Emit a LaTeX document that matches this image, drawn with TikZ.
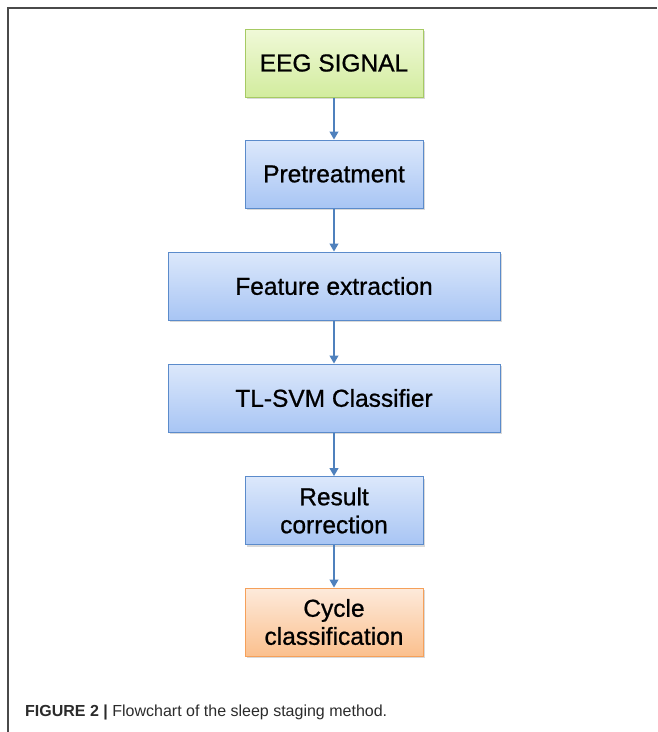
\documentclass[tikz,border=0pt]{standalone}
\usepackage{fontspec}
\setmainfont{Liberation Sans}
\newfontfamily\boxfont{Liberation Sans}[BoldFont={Liberation Sans}, BoldFeatures={FakeBold=0.8}]
\usetikzlibrary{shadows,arrows.meta}
\definecolor{bluetop}{HTML}{DCE8FB}
\definecolor{bluebot}{HTML}{A8C5F4}
\definecolor{blueedge}{HTML}{5B8BCB}
\definecolor{greentop}{HTML}{F0F9D8}
\definecolor{greenbot}{HTML}{D2EC9E}
\definecolor{greenedge}{HTML}{A6CA63}
\definecolor{orangetop}{HTML}{FDEADB}
\definecolor{orangebot}{HTML}{FBC08E}
\definecolor{orangeedge}{HTML}{F5A05A}
\definecolor{arrowblue}{HTML}{4F81BD}
\definecolor{framegray}{HTML}{4A4A4A}
\definecolor{captext}{HTML}{2B2B2B}
\tikzset{
  box/.style={rectangle, draw=blueedge, line width=1pt, top color=bluetop, bottom color=bluebot,
    minimum height=68pt, align=center, font=\boxfont\bfseries\fontsize{24.5}{28}\selectfont,
    drop shadow={shadow xshift=2pt, shadow yshift=-2pt, opacity=0.25, fill=black!60}},
  narrow/.style={box, minimum width=178pt},
  wide/.style={box, minimum width=332pt},
  startbox/.style={narrow, draw=greenedge, top color=greentop, bottom color=greenbot},
  endbox/.style={narrow, draw=orangeedge, top color=orangetop, bottom color=orangebot},
  flow/.style={draw=arrowblue, line width=1.2pt, -{Triangle[length=8pt,width=9pt]}}
}
\begin{document}
\begin{tikzpicture}[x=1pt, y=-1pt]
  \useasboundingbox (0,0) rectangle (657,732);
  % page frame: top and left rules
  \draw[framegray, line width=1.8pt] (8,732) -- (8,8) -- (657,8);
  % flow steps
  \node[startbox] (eeg)  at (334,63)  {EEG SIGNAL};
  \node[narrow]   (pre)  at (334,174) {Pretreatment};
  \node[wide]     (feat) at (334,286) {Feature extraction};
  \node[wide]     (svm)  at (334,398) {TL-SVM Classifier};
  \node[narrow]   (res)  at (334,510.5) {Result\\correction};
  \node[endbox]   (cyc)  at (334,622) {Cycle\\classification};
  % connectors
  \draw[flow] (eeg) -- (pre);
  \draw[flow] (pre) -- (feat);
  \draw[flow] (feat) -- (svm);
  \draw[flow] (svm) -- (res);
  \draw[flow] (res) -- (cyc);
  % caption
  \node[anchor=base west, inner sep=0pt, text=captext, font=\fontsize{16}{19}\selectfont] (cap) at (25,716)
    {\textbf{FIGURE 2 |} Flowchart of the sleep staging method.};
\end{tikzpicture}
\end{document}
